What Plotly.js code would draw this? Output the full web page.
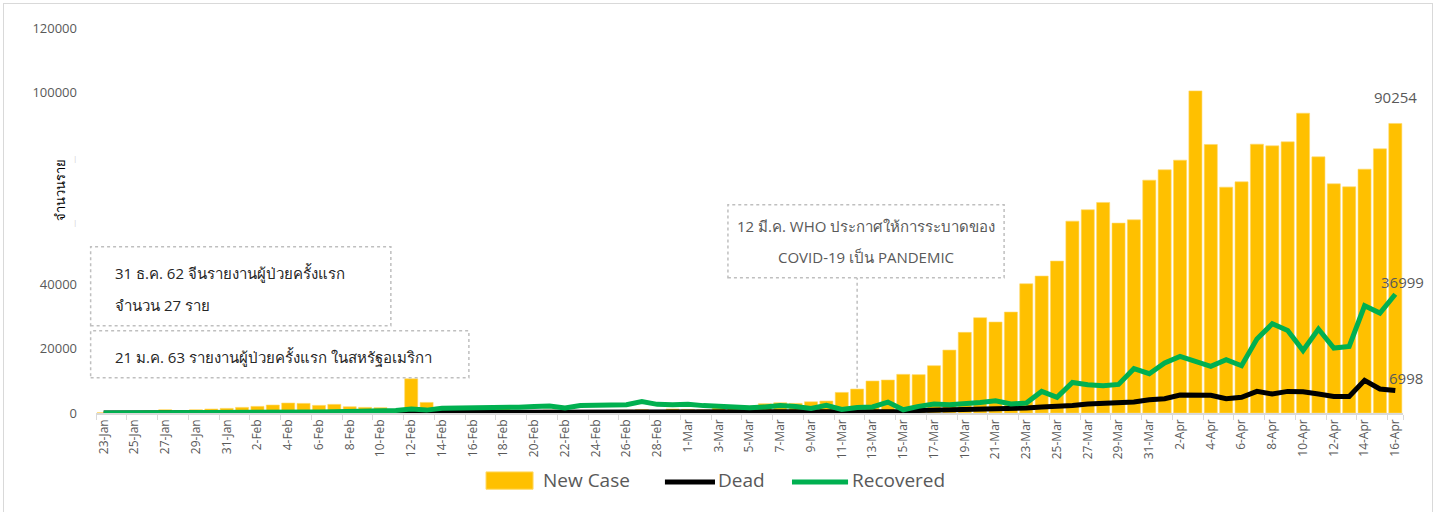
<!DOCTYPE html>
<html>
<head>
<meta charset="utf-8">
<script src="https://cdn.plot.ly/plotly-3.0.1.min.js"></script>
<style>
  html, body { margin: 0; padding: 0; background: #fff; }
  #wrap { position: relative; width: 1437px; height: 512px; overflow: hidden; }
  #chart { position: absolute; left: 0; top: 0; width: 1437px; height: 512px; }
  #frame { position: absolute; left: 3px; top: 3px; width: 1428px; height: 520px; border: 1px solid #d9d9d9; pointer-events: none; }
</style>
</head>
<body>
<div id="wrap"><div id="chart"></div><div id="frame"></div></div>
<script>
const dates = [
  "23-Jan","24-Jan","25-Jan","26-Jan","27-Jan","28-Jan","29-Jan","30-Jan","31-Jan",
  "1-Feb","2-Feb","3-Feb","4-Feb","5-Feb","6-Feb","7-Feb","8-Feb","9-Feb","10-Feb",
  "11-Feb","12-Feb","13-Feb","14-Feb","15-Feb","16-Feb","17-Feb","18-Feb","19-Feb","20-Feb",
  "21-Feb","22-Feb","23-Feb","24-Feb","25-Feb","26-Feb","27-Feb","28-Feb","29-Feb",
  "1-Mar","2-Mar","3-Mar","4-Mar","5-Mar","6-Mar","7-Mar","8-Mar","9-Mar","10-Mar",
  "11-Mar","12-Mar","13-Mar","14-Mar","15-Mar","16-Mar","17-Mar","18-Mar","19-Mar","20-Mar",
  "21-Mar","22-Mar","23-Mar","24-Mar","25-Mar","26-Mar","27-Mar","28-Mar","29-Mar","30-Mar","31-Mar",
  "1-Apr","2-Apr","3-Apr","4-Apr","5-Apr","6-Apr","7-Apr","8-Apr","9-Apr","10-Apr",
  "11-Apr","12-Apr","13-Apr","14-Apr","15-Apr","16-Apr"
];

const newCase = [
  100, 250, 400, 600, 1030, 720, 1030, 1250, 1450,
  1760, 2070, 2490, 3110, 3000, 2380, 2690, 1960, 1760, 1660,
  600, 10680, 3300, 1800, 1500, 1700, 1500, 1600, 600, 500,
  900, 500, 700, 800, 700, 900, 1100, 720, 1250,
  1120, 1030, 1560, 1800, 1900, 2900, 3200, 3000, 3500, 3740,
  6420, 7470, 9970, 10280, 12050, 11950, 14740, 19620, 25130, 29700,
  28350, 31460, 40290, 42680, 47350, 59800, 63340, 65630, 59185, 60210, 72580,
  75790, 78810, 100400, 83700, 70400, 72050, 83790, 83260, 84510, 93450,
  79840, 71430, 70490, 76006, 82330, 90254
];

const dead = [
  10, 15, 15, 25, 25, 25, 40, 40, 45,
  45, 55, 65, 65, 75, 75, 85, 90, 100, 110,
  100, 250, 120, 140, 140, 105, 100, 115, 120, 110,
  100, 150, 70, 50, 30, 45, 45, 60, 60,
  70, 80, 90, 80, 100, 100, 100, 230, 200, 300,
  300, 350, 450, 400, 450, 800, 900, 950, 1100, 1000,
  1250, 1450, 1560, 1870, 2000, 2370, 2800, 2900, 3000, 3430, 4150,
  4460, 5600, 5400, 5500, 4460, 4880, 6730, 5910, 6730, 6600,
  5910, 5180, 5180, 10170, 7480, 6998
];

const recovered = [
  0, 0, 0, 0, 20, 30, 40, 50, 60,
  80, 100, 150, 200, 250, 300, 400, 450, 500, 650,
  800, 1250, 900, 1500, 1500, 1600, 1700, 1800, 1800, 2000,
  2200, 1600, 2300, 2400, 2500, 2600, 3600, 2700, 2600,
  2700, 2300, 2100, 1600, 1600, 1900, 2300, 2000, 1400, 2400,
  1100, 1700, 1900, 3400, 1000, 2060, 2800, 2590, 2800, 3300,
  3830, 2800, 3110, 6730, 4860, 9530, 8820, 8500, 8920, 13800, 12240,
  15570, 17640, 16090, 14530, 16600, 14730, 23050, 27800, 25730, 19500,
  26170, 20250, 20750, 33420, 31150, 36999
];

const yTickVals = [0, 20000, 40000, 60000, 80000, 100000, 120000];
const hiddenMark = '<span style="font-size:7px;fill:#c8c8c8">|</span>';
const yTickText = ["0", "20000", "40000", hiddenMark, hiddenMark, "100000", "120000"];

const seriesNames = ["New Case", "Dead", "Recovered"];
const seriesColors = ["#FFC000", "#000000", "#00B050"];
const yTitle = "จำนวนราย";
const note1a = "31 ธ.ค. 62 จีนรายงานผู้ป่วยครั้งแรก";
const note1b = "จำนวน 27 ราย";
const note2 = "21 ม.ค. 63 รายงานผู้ป่วยครั้งแรก ในสหรัฐอเมริกา";
const note3a = "12 มี.ค. WHO ประกาศให้การระบาดของ";
const note3b = "COVID-19 เป็น PANDEMIC";
const noteDate = "12-Mar";

const FONT = 'Tahoma, "Open Sans", "Noto Sans", "DejaVu Sans", sans-serif';
const GRAY = '#595959';
const last = dates.length - 1;

const traces = [
  { type: 'bar', name: seriesNames[0], x: dates, y: newCase,
    marker: { color: seriesColors[0], line: { color: '#FFD966', width: 0.6 } }, hoverinfo: 'x+y' },
  { type: 'scatter', mode: 'lines', name: seriesNames[1], x: dates, y: dead,
    line: { color: seriesColors[1], width: 5 } },
  { type: 'scatter', mode: 'lines', name: seriesNames[2], x: dates, y: recovered,
    line: { color: seriesColors[2], width: 5 } }
];

const tickDates = dates.filter((d, i) => i % 2 === 0);

const dotted = { color: '#bfbfbf', width: 1.5, dash: 'dot' };

function note(x, y, text, color, xanchor) {
  return { xref: 'paper', yref: 'paper', x: x, y: y, xanchor: xanchor, yanchor: 'middle',
           text: text, showarrow: false, font: { size: 15, color: color } };
}

const legY = -0.174;
const legendShapes = [
  { type: 'rect', xref: 'paper', yref: 'paper', x0: 0.2984, x1: 0.3344, y0: -0.198, y1: -0.153,
    fillcolor: seriesColors[0], line: { color: '#FFD966', width: 1 } },
  { type: 'line', xref: 'paper', yref: 'paper', x0: 0.4353, x1: 0.4736, y0: legY - 0.005, y1: legY - 0.005,
    line: { color: seriesColors[1], width: 5 } },
  { type: 'line', xref: 'paper', yref: 'paper', x0: 0.5325, x1: 0.5754, y0: legY - 0.005, y1: legY - 0.005,
    line: { color: seriesColors[2], width: 5 } }
];
const legendTexts = [
  { xref: 'paper', yref: 'paper', x: 0.3405, y: legY, xanchor: 'left', yanchor: 'middle', showarrow: false,
    text: seriesNames[0], font: { size: 19, color: GRAY } },
  { xref: 'paper', yref: 'paper', x: 0.4745, y: legY, xanchor: 'left', yanchor: 'middle', showarrow: false,
    text: seriesNames[1], font: { size: 19, color: GRAY } },
  { xref: 'paper', yref: 'paper', x: 0.5770, y: legY, xanchor: 'left', yanchor: 'middle', showarrow: false,
    text: seriesNames[2], font: { size: 19, color: GRAY } }
];

const layout = {
  width: 1437, height: 512,
  margin: { l: 96, r: 34, t: 28, b: 99 },
  paper_bgcolor: '#ffffff', plot_bgcolor: '#ffffff',
  font: { family: FONT, color: GRAY },
  bargap: 0.15,
  showlegend: false,
  xaxis: {
    type: 'category', categoryorder: 'array', categoryarray: dates,
    range: [-0.5, dates.length - 0.5], autorange: false,
    tickmode: 'array', tickvals: tickDates, ticktext: tickDates,
    tickangle: -90, tickfont: { size: 12, color: GRAY },
    showline: true, linecolor: '#d9d9d9', linewidth: 1.5,
    ticks: 'outside', ticklen: 5, tickcolor: '#d9d9d9', tickson: 'boundaries',
    showgrid: false, zeroline: false, fixedrange: true
  },
  yaxis: {
    range: [0, 120000], autorange: false, tickmode: 'array', tickvals: yTickVals, ticktext: yTickText,
    tickfont: { size: 13, color: GRAY }, showline: false, showgrid: false, zeroline: false,
    ticks: '', ticklabelstandoff: 18, fixedrange: true
  },
  shapes: [
    { type: 'rect', xref: 'paper', yref: 'paper', x0: -0.0041, x1: 0.2256, y0: 0.2268, y1: 0.432, line: dotted },
    { type: 'rect', xref: 'paper', yref: 'paper', x0: -0.0041, x1: 0.2853, y0: 0.0917, y1: 0.2138, line: dotted },
    { type: 'rect', xref: 'paper', yref: 'paper', x0: 0.4835, x1: 0.6948, y0: 0.3514, y1: 0.541, line: dotted },
    { type: 'line', xref: 'x', yref: 'paper', x0: noteDate, x1: noteDate, y0: 0.0657, y1: 0.3514, line: dotted }
  ].concat(legendShapes),
  annotations: [
    { xref: 'paper', yref: 'paper', x: -0.0275, y: 0.58, xanchor: 'center', yanchor: 'middle',
      text: yTitle, textangle: -90, showarrow: false, font: { size: 13, color: '#000000' } },
    note(0.0128, 0.3644, note1a, '#262626', 'left'),
    note(0.0128, 0.2813, note1b, '#262626', 'left'),
    note(0.0128, 0.1462, note2, '#262626', 'left'),
    note(0.5892, 0.4865, note3a, GRAY, 'center'),
    note(0.5892, 0.406, note3b, GRAY, 'center'),
    { x: dates[last], y: newCase[last], text: String(newCase[last]), showarrow: false,
      yshift: 26, font: { size: 15, color: GRAY } },
    { x: dates[last], y: recovered[last], text: String(recovered[last]), showarrow: false,
      xshift: 7, yshift: 12, font: { size: 15, color: GRAY } },
    { x: dates[last], y: dead[last], text: String(dead[last]), showarrow: false,
      xshift: 11, yshift: 13, font: { size: 15, color: GRAY } }
  ].concat(legendTexts)
};

Plotly.newPlot('chart', traces, layout, { displayModeBar: false, staticPlot: true });
</script>
</body>
</html>
